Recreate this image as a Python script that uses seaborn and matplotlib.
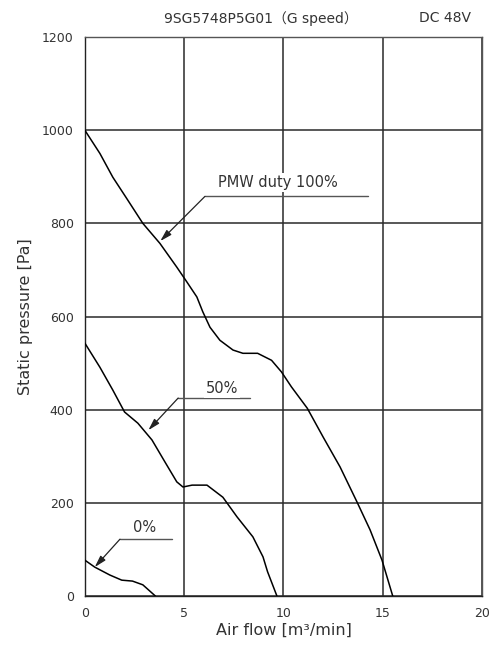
import pandas as pd
import matplotlib
matplotlib.use("Agg")
import matplotlib.pyplot as plt
import seaborn as sns

# curvas P-Q (vazão m3/min, pressão Pa)
flow_100 = [0, 0.76, 1.41, 2.1, 2.92, 3.78, 4.63, 5.14, 5.64, 5.94, 6.3, 6.8, 7.46,
            7.96, 8.7, 9.4, 9.9, 10.4, 11.2, 12.0, 12.85, 13.7, 14.36, 14.96, 15.5]
press_100 = [1000, 950, 899, 854, 800, 757, 706, 674, 642, 610, 577, 549, 528,
             521, 521, 506, 481, 449, 403, 341, 277, 202, 142, 77, 0]

flow_50 = [0, 0.76, 1.41, 2.0, 2.67, 3.38, 4.03, 4.63, 4.94, 5.4, 6.15, 6.95,
           7.66, 8.46, 8.97, 9.2, 9.67]
press_50 = [543, 491, 442, 395, 371, 335, 288, 245, 234, 238, 238, 212,
            170, 127, 84, 52, 0]

flow_0 = [0, 0.5, 1.26, 1.86, 2.4, 2.92, 3.55]
press_0 = [77, 62, 45, 34, 32, 24, 0]

x_ticks = [0, 5, 10, 15, 20]
y_ticks = [0, 200, 400, 600, 800, 1000, 1200]

# rótulos: texto, ponta da seta, início/fim do traço, posição do texto
labels = [
    ("PMW duty 100%", (3.8, 762), (6.05, 858), (14.26, 858), (9.7, 888)),
    ("50%", (3.2, 356), (4.7, 425), (8.3, 425), (6.9, 446)),
    ("0%", (0.5, 62), (1.77, 122), (4.4, 122), (3.0, 146)),
]

TXT = "#333333"


def gerar_grafico():
    sns.set_style("white")
    plt.rcParams["font.family"] = ["DejaVu Sans", "Noto Sans CJK JP"]

    fig = plt.figure(figsize=(4.96, 6.53), dpi=100)
    ax = fig.add_axes([0.171, 0.0873, 0.801, 0.856])

    df = pd.concat([
        pd.DataFrame({"flow": flow_100, "pressure": press_100, "duty": "100"}),
        pd.DataFrame({"flow": flow_50, "pressure": press_50, "duty": "50"}),
        pd.DataFrame({"flow": flow_0, "pressure": press_0, "duty": "0"}),
    ])
    sns.lineplot(data=df, x="flow", y="pressure", units="duty", estimator=None,
                 sort=False, color="black", lw=1.1, ax=ax, zorder=3)

    ax.set_xlim(0, 20)
    ax.set_ylim(0, 1200)
    ax.set_xticks(x_ticks)
    ax.set_yticks(y_ticks)
    ax.grid(True, color="#2a2a2a", lw=1.1)
    for s in ax.spines.values():
        s.set_color("#555555")
        s.set_linewidth(1.0)
    ax.spines["left"].set_color("#222222")
    ax.spines["bottom"].set_color("#222222")
    ax.tick_params(colors=TXT, labelsize=9, length=0, pad=8)

    for txt, tip, start, end, pos in labels:
        ax.plot([start[0], end[0]], [start[1], end[1]], color="#555555", lw=1.0, zorder=4)
        ax.annotate("", xy=tip, xytext=start,
                    arrowprops=dict(arrowstyle="-|>,head_length=0.7,head_width=0.2",
                                    color="#222222", lw=0.9, shrinkA=0, shrinkB=0),
                    zorder=4)
        ax.text(pos[0], pos[1], txt, ha="center", va="center", fontsize=10.5,
                color=TXT, zorder=5,
                bbox=dict(facecolor="white", edgecolor="none", pad=1.5))

    ax.set_xlabel("Air flow [m³/min]", fontsize=11.5, color=TXT, labelpad=2)
    ax.set_ylabel("Static pressure [Pa]", fontsize=11.5, color=TXT, labelpad=6)

    fig.text(0.525, 0.972, "9SG5748P5G01（G speed）", ha="center", va="center",
             fontsize=10, color=TXT)
    fig.text(0.897, 0.972, "DC 48V", ha="center", va="center", fontsize=10, color=TXT)

    fig.savefig("out.png", dpi=100)


if __name__ == "__main__":
    gerar_grafico()
